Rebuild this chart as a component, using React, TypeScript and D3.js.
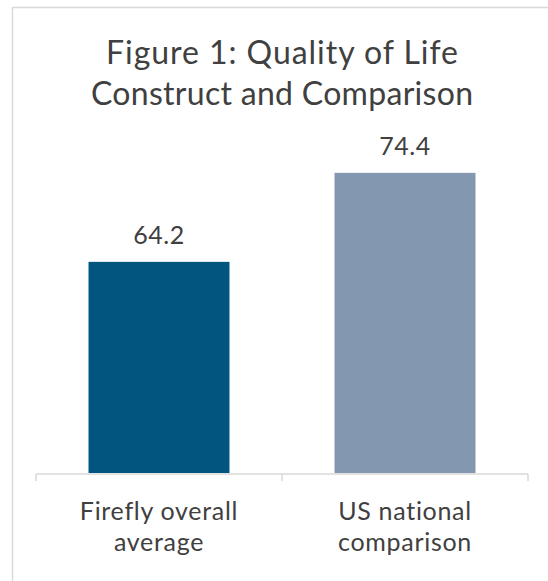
import React from "react";
import * as d3 from "d3";

const categories: string[][] = [
  ["Firefly overall", "average"],
  ["US national", "comparison"],
];
const values: number[] = [64.2, 74.4];
const colors: string[] = ["#02557f", "#8497b0"];
const titleLines: string[] = ["Figure 1: Quality of Life", "Construct and Comparison"];
const yDomain: [number, number] = [40, 80];

const W = 548;
const H = 581;
const FONT = "Lato, 'Open Sans', sans-serif";
const TEXT = "#404040";
const TITLE_WIDTHS = [352, 382];

export default function App() {
  const x = d3
    .scaleBand<number>()
    .domain(values.map((_, i) => i))
    .range([36, 528])
    .paddingInner(0.427)
    .paddingOuter(0.2135);
  const y = d3.scaleLinear().domain(yDomain).range([473, 124]);
  const base = y(yDomain[0]);
  const step = x.step();
  const tickXs = d3.range(values.length + 1).map((i) => 36 + i * step);

  return (
    <svg
      width={W}
      height={H}
      style={{ position: "absolute", left: 0, top: 0, background: "#fff" }}
    >
      <rect x={12.5} y={7.5} width={600} height={650} fill="#fff" stroke="#d9d9d9" strokeWidth={1.5} />
      {titleLines.map((t, i) => (
        <text
          key={i}
          x={282}
          y={64 + i * 41}
          textAnchor="middle"
          fontFamily={FONT}
          fontSize={32}
          textLength={TITLE_WIDTHS[i]}
          lengthAdjust="spacing"
          fill={TEXT}
        >
          {t}
        </text>
      ))}
      {values.map((v, i) => (
        <g key={i}>
          <rect
            x={x(i)!}
            y={y(v)}
            width={x.bandwidth()}
            height={base - y(v)}
            fill={colors[i]}
          />
          <text
            x={x(i)! + x.bandwidth() / 2}
            y={y(v) - 18}
            textAnchor="middle"
            fontFamily={FONT}
            fontSize={25}
            letterSpacing={0.5}
            fill={TEXT}
          >
            {d3.format(".1f")(v)}
          </text>
          {categories[i].map((line, j) => (
            <text
              key={j}
              x={x(i)! + x.bandwidth() / 2}
              y={520 + j * 31}
              textAnchor="middle"
              fontFamily={FONT}
              fontSize={25}
              letterSpacing={0.7}
              fill={TEXT}
            >
              {line}
            </text>
          ))}
        </g>
      ))}
      <line x1={36} x2={528} y1={474} y2={474} stroke="#d9d9d9" strokeWidth={1.5} />
      {tickXs.map((tx, i) => (
        <line key={i} x1={tx} x2={tx} y1={474} y2={481} stroke="#d9d9d9" strokeWidth={1.5} />
      ))}
    </svg>
  );
}
